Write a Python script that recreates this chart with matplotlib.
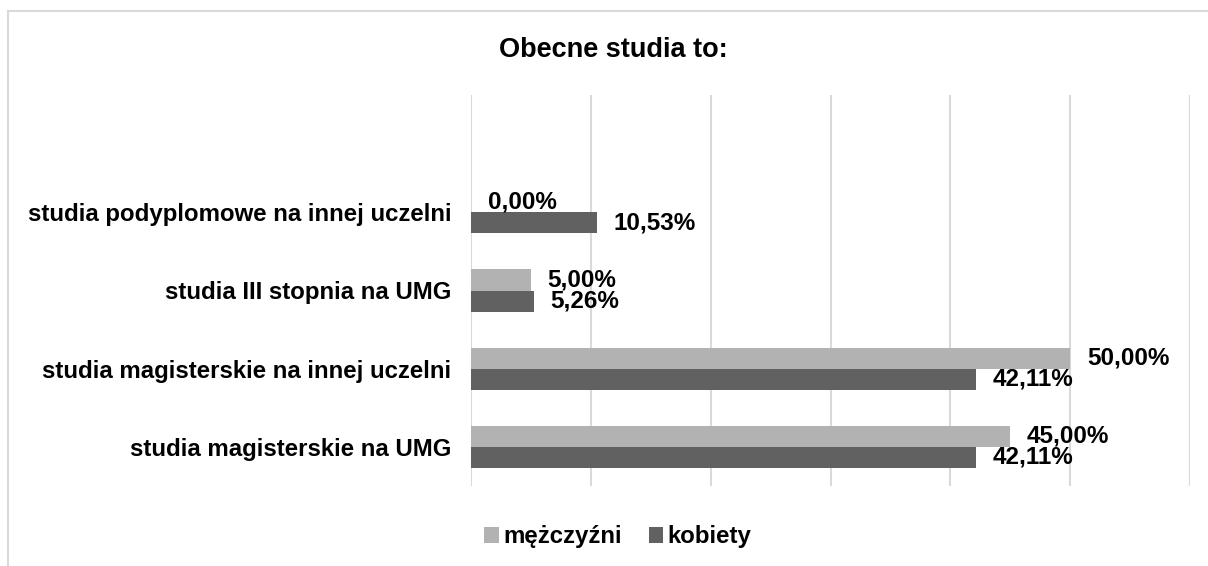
import numpy as np
import matplotlib
matplotlib.use("Agg")
import matplotlib.pyplot as plt
from matplotlib.patches import Rectangle

plt.rcParams['font.family'] = ['Liberation Sans', 'DejaVu Sans']
plt.rcParams['font.weight'] = 'bold'

# data (bottom to top)
categories = ['studia magisterskie na UMG', 'studia magisterskie na innej uczelni',
              'studia III stopnia na UMG', 'studia podyplomowe na innej uczelni']
men = [45.00, 50.00, 5.00, 0.00]
women = [42.11, 42.11, 5.26, 10.53]
series_names = ['mężczyźni', 'kobiety']
c_men = '#b2b2b2'
c_women = '#616161'

fig = plt.figure(figsize=(12.08, 5.66), dpi=100)
ax = fig.add_axes([471 / 1208, 1 - 486 / 566, (1190 - 471) / 1208, (486 - 95) / 566])

y = np.arange(len(categories))
h = 0.27
b1 = ax.barh(y + h / 2, men, height=h, color=c_men, label=series_names[0], zorder=3)
b2 = ax.barh(y - h / 2, women, height=h, color=c_women, label=series_names[1], zorder=3)

def fmt(v):
    return f'{v:.2f}%'.replace('.', ',')

for bars, vals in [(b1, men), (b2, women)]:
    for bar, v in zip(bars, vals):
        ax.annotate(fmt(v), (v, bar.get_y() + bar.get_height() / 2),
                    xytext=(12, 0), textcoords='offset points',
                    ha='left', va='center', fontsize=17.5, fontweight='bold')

ax.set_xlim(0, 60)
ax.set_ylim(-0.5, 4.5)
ax.set_xticks(np.arange(0, 61, 10))
ax.set_xticklabels([])
ax.tick_params(axis='x', length=0)
ax.tick_params(axis='y', length=0, pad=14)
ax.set_yticks(y)
ax.set_yticklabels(categories, fontsize=17.3, fontweight='bold')
ax.grid(axis='x', color='#d9d9d9', linewidth=1.5, zorder=0)
for s in ax.spines.values():
    s.set_visible(False)

fig.text(613 / 1208, 1 - 50 / 566, 'Obecne studia to:', ha='center', va='center',
         fontsize=19.5, fontweight='bold')

fig.legend(handles=[b1, b2], loc='center', bbox_to_anchor=(618 / 1208, 1 - 537 / 566),
           ncol=2, frameon=False, handlelength=0.6, handleheight=0.6,
           handletextpad=0.2, columnspacing=1.1,
           prop={'weight': 'bold', 'size': 17.3})

fig.patches.append(Rectangle((8 / 1208, -0.2), 1.5, 1.2 - 11 / 566, transform=fig.transFigure,
                             fill=False, edgecolor='#d9d9d9', linewidth=1.5))

fig.savefig('out.png', dpi=100)
